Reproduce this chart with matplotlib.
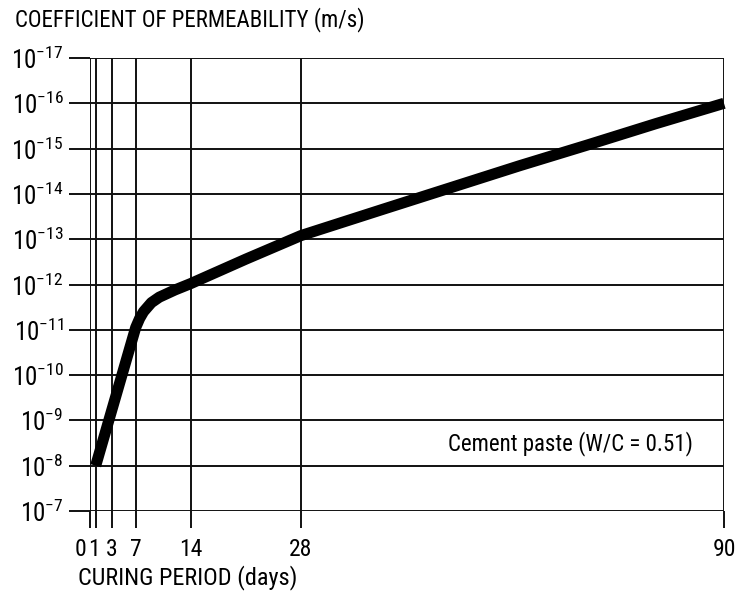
import numpy as np
import matplotlib
matplotlib.use("Agg")
import matplotlib.pyplot as plt
import matplotlib.transforms as mtransforms

plt.rcParams['font.family'] = ['Roboto Condensed', 'Liberation Sans Narrow', 'DejaVu Sans']
plt.rcParams['font.stretch'] = 'condensed'
plt.rcParams['mathtext.fontset'] = 'custom'
plt.rcParams['mathtext.rm'] = 'Roboto Condensed'
plt.rcParams['mathtext.default'] = 'regular'

# curing period (days) vs log10 of permeability coefficient (m/s)
days = [1, 7, 7.5, 8, 9, 10, 12, 14, 21, 28, 40, 50, 60, 70, 80, 90]
log_k = [-8.0, -11.05, -11.25, -11.4, -11.6, -11.72, -11.88, -12.02,
         -12.56, -13.08, -13.66, -14.14, -14.62, -15.08, -15.55, -16.0]

day_ticks = [0, 1, 3, 7, 14, 28, 90]
exp_ticks = list(range(-17, -6))
# the drawn axis is not uniform in days: where each tick day sits along it
tick_pos = [0, 5.7, 21.7, 45.7, 100.7, 211, 634]

note = "Cement paste (W/C = 0.51)"

fwd = lambda d: np.interp(d, day_ticks, tick_pos)
inv = lambda p: np.interp(p, tick_pos, day_ticks)

fig = plt.figure(figsize=(7.38, 5.94), dpi=100)
ax = fig.add_axes([90/738, 1 - 511/594, 634/738, 453/594])

ax.set_xscale('function', functions=(fwd, inv))
ax.set_yscale('log')
ax.set_xlim(0, 90)
ax.set_ylim(10.0**-7, 10.0**-17)

ax.plot(days, 10.0**np.array(log_k), color='black', lw=8,
        solid_joinstyle='round', solid_capstyle='butt', clip_on=False, zorder=3)

ax.set_xticks(day_ticks)
ax.set_xticklabels([str(d) for d in day_ticks])
ax.set_yticks([10.0**e for e in exp_ticks])
ax.set_yticklabels(['10$^{%d}$' % e for e in exp_ticks])
ax.minorticks_off()

ax.grid(True, color='#111111', lw=1.4)
ax.set_axisbelow(True)
for s in ax.spines.values():
    s.set_visible(False)

ax.tick_params(axis='y', length=15, width=1.4, color='#111111', pad=4, labelsize=18)
ax.tick_params(axis='x', length=12.5, width=1.4, color='#111111', pad=7, labelsize=17)

# nudge the crowded 0 and 1 labels apart
lbls = ax.get_xticklabels()
for lab, dx in zip(lbls[:2], (-9, -2)):
    lab.set_transform(lab.get_transform() + mtransforms.ScaledTranslation(dx/100, 0, fig.dpi_scale_trans))

ax.text(85.5, 10.0**-8.5, note, ha='right', va='center', fontsize=16.5)

fig.text(15/738, 1 - 20/594, "COEFFICIENT OF PERMEABILITY (m/s)", ha='left', va='center', fontsize=16.5)
fig.text(78/738, 1 - 578/594, "CURING PERIOD (days)", ha='left', va='center', fontsize=17.5)

fig.savefig("out.png", dpi=100)
